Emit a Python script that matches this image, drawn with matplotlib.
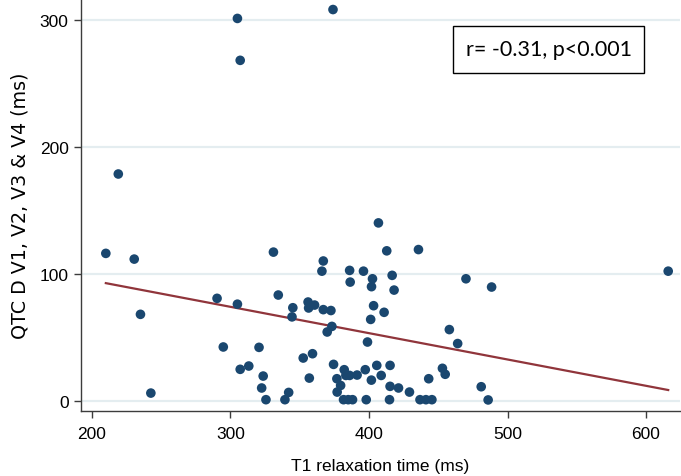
import numpy as np
import matplotlib
matplotlib.use('Agg')
import matplotlib.pyplot as plt
from matplotlib.patches import Rectangle

# T1 relaxation time (ms) vs QTc dispersion V1-V4 (ms)
t1 = [305, 374, 307, 219, 210, 230.5, 235, 242.5, 616, 488.5,
      470, 458, 464, 481, 486, 331, 367, 366, 386, 396,
      386.4, 402.5, 401.8, 290.3, 305, 334.5, 345, 344.4, 356, 356.4,
      360.7, 367, 372.5, 373.2, 369.8, 403.3, 401.2, 398.9, 294.8, 320.6,
      307, 313.2, 323.6, 322.5, 325.6, 342, 339.3, 352.5, 359.2, 356.9,
      374.4, 382.1, 376.8, 383.3, 386, 391.4, 379.5, 377, 381.6, 385,
      388.1, 397.3, 401.7, 398, 405.6, 406.8, 412.8, 435.7, 416.7, 418.1,
      410.9, 415.2, 408.8, 415.2, 421.3, 429.2, 453, 455, 443.1, 414.8,
      436.8, 441.1, 445.4]
qtcd = [301, 308, 268, 178.5, 116, 111.5, 68, 6, 102, 89.5,
        96, 56, 45, 11, 0.6, 117, 110, 102, 102.6, 102,
        93.4, 96, 89.8, 80.6, 76, 83.2, 73.2, 66, 77.7, 73,
        75.3, 71.7, 71, 58.5, 54.1, 74.8, 64, 46.2, 42.3, 42,
        24.7, 27.3, 19.4, 10, 0.8, 6.5, 0.8, 33.6, 37, 17.8,
        28.6, 24.4, 17.3, 19.9, 19.9, 20.2, 12, 6.8, 0.8, 0.8,
        0.8, 24.4, 16.2, 0.8, 27.8, 140, 118, 119, 98.7, 87.1,
        69.6, 27.8, 19.9, 11.3, 10, 6.8, 25.5, 20.8, 17.3, 0.8,
        0.8, 0.8, 0.8]

# fitted line
fit_slope = -0.2073
fit_intercept = 136.1
annot = 'r= -0.31, p<0.001'

x_ticks = [200, 300, 400, 500, 600]
y_ticks = [0, 100, 200, 300]

plt.rcParams['font.family'] = ['Liberation Sans', 'DejaVu Sans']

fig = plt.figure(figsize=(6.81, 4.77), dpi=100)
ax = fig.add_axes([0.119, 0.1363, 0.8795, 0.8637])

for yt in y_ticks:
    ax.axhline(yt, color='#e4edf0', lw=1.6, zorder=0)

ax.scatter(t1, qtcd, s=48, color='#1a476f', edgecolors='none', zorder=3)

xs = np.array([min(t1), max(t1)])
ax.plot(xs, fit_intercept + fit_slope * xs, color='#90353b', lw=1.6, zorder=2)

ax.set_xlim(192.1, 624.5)
ax.set_ylim(-8.1, 316.3)
ax.set_xticks(x_ticks)
ax.set_yticks(y_ticks)

for s in ['top', 'right']:
    ax.spines[s].set_visible(False)
for s in ['left', 'bottom']:
    ax.spines[s].set_color('#3c3c3c')
    ax.spines[s].set_linewidth(1.0)

ax.tick_params(axis='both', direction='out', length=5, width=1.0,
               color='#3c3c3c', labelsize=12.5, labelcolor='black')
ax.tick_params(axis='x', pad=6)
ax.tick_params(axis='y', pad=4)

ax.set_xlabel('T1 relaxation time (ms)', fontsize=12.5, labelpad=12)
ax.set_ylabel('QTC D V1, V2, V3 & V4 (ms)', fontsize=13.7, labelpad=7,
              family=['DejaVu Sans'])

# annotation box
box = Rectangle((453 / 681, 1 - 74 / 477), 191 / 681, 47 / 477,
                transform=fig.transFigure, fill=False, edgecolor='black', lw=1.0)
fig.add_artist(box)
fig.text(548.5 / 681, 1 - 50.5 / 477, annot, fontsize=15.5,
         family=['Lato', 'DejaVu Sans'], ha='center', va='center')

fig.savefig('out.png', dpi=100)
